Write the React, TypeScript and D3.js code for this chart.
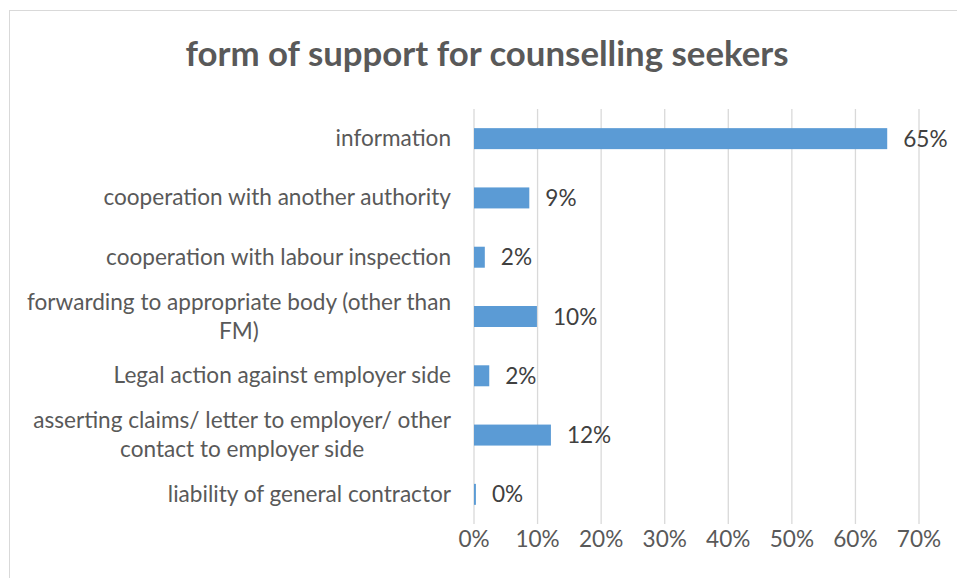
import * as d3 from 'd3';
import { useEffect, useRef } from 'react';

const categories = [
  'information',
  'cooperation with another authority',
  'cooperation with labour inspection',
  'forwarding to appropriate body (other than\nFM)',
  'Legal action against employer side',
  'asserting claims/ letter to employer/ other\ncontact to employer side',
  'liability of general contractor'
];
const shares = [0.65, 0.087, 0.017, 0.099, 0.024, 0.121, 0.003];
const xTicks = [0, 0.1, 0.2, 0.3, 0.4, 0.5, 0.6, 0.7];
const title = 'form of support for counselling seekers';

const W = 957;
const H = 578;
const FONT = 'Lato, "Open Sans", sans-serif';
const FS = 22.6;

const App = () => {
  const ref = useRef<SVGSVGElement | null>(null);

  useEffect(() => {
    if (!ref.current) return;
    const svg = d3.select(ref.current);
    svg.selectAll('*').remove();

    const x = d3.scaleLinear().domain([0, 0.7]).range([474, 919]);
    const y = d3.scaleBand<string>()
      .domain(categories)
      .range([109, 524])
      .paddingInner(0.646)
      .paddingOuter(0.323);
    const pct = d3.format('.0%');

    // chart frame
    svg.append('rect')
      .attr('x', 9.5).attr('y', 10.5)
      .attr('width', 980).attr('height', 620)
      .attr('fill', 'white')
      .attr('stroke', '#d9d9d9');

    svg.append('text')
      .attr('x', 487).attr('y', 66)
      .attr('text-anchor', 'middle')
      .attr('font-family', FONT)
      .attr('font-weight', 700)
      .attr('font-size', 34.8)
      .attr('fill', '#595959')
      .text(title);

    // gridlines
    svg.append('g')
      .selectAll('line')
      .data(xTicks)
      .join('line')
      .attr('x1', d => x(d)).attr('x2', d => x(d))
      .attr('y1', 109).attr('y2', 524)
      .attr('stroke', '#d9d9d9')
      .attr('stroke-width', 1.3);

    svg.append('g')
      .selectAll('text')
      .data(xTicks)
      .join('text')
      .attr('x', d => x(d))
      .attr('y', 547)
      .attr('text-anchor', 'middle')
      .attr('font-family', FONT)
      .attr('font-size', FS)
      .attr('fill', '#595959')
      .text(d => pct(d));

    // bars
    svg.append('g')
      .selectAll('rect')
      .data(shares)
      .join('rect')
      .attr('x', x(0))
      .attr('y', (_, i) => y(categories[i])!)
      .attr('width', d => x(d) - x(0))
      .attr('height', y.bandwidth())
      .attr('fill', '#5b9bd5');

    svg.append('g')
      .selectAll('text')
      .data(shares)
      .join('text')
      .attr('x', d => x(d) + 16)
      .attr('y', (_, i) => y(categories[i])! + y.bandwidth() / 2 + 8)
      .attr('font-family', FONT)
      .attr('font-size', FS)
      .attr('fill', '#404040')
      .text(d => pct(d));

    // category labels, multi-line ones centred on their widest line
    const lab = svg.append('g');
    categories.forEach(c => {
      const lines = c.split('\n');
      const cy = y(c)! + y.bandwidth() / 2;
      const t = lab.append('text')
        .attr('font-family', FONT)
        .attr('font-size', FS)
        .attr('fill', '#595959');
      const lh = 29;
      const base = cy + 7.5 - ((lines.length - 1) * lh) / 2;
      lines.forEach((l, k) => {
        t.append('tspan').attr('y', base + k * lh).text(l);
      });
      if (lines.length === 1) {
        t.attr('text-anchor', 'end').selectAll('tspan').attr('x', 451);
      } else {
        const widths = (t.selectAll('tspan').nodes() as SVGTSpanElement[]).map(n => n.getComputedTextLength());
        const mid = 451 - d3.max(widths)! / 2;
        t.attr('text-anchor', 'middle').selectAll('tspan').attr('x', mid);
      }
    });
  }, []);

  return (
    <svg
      ref={ref}
      width={W}
      height={H}
      style={{ position: 'absolute', left: 0, top: 0, display: 'block' }}
    />
  );
};

export default App;
